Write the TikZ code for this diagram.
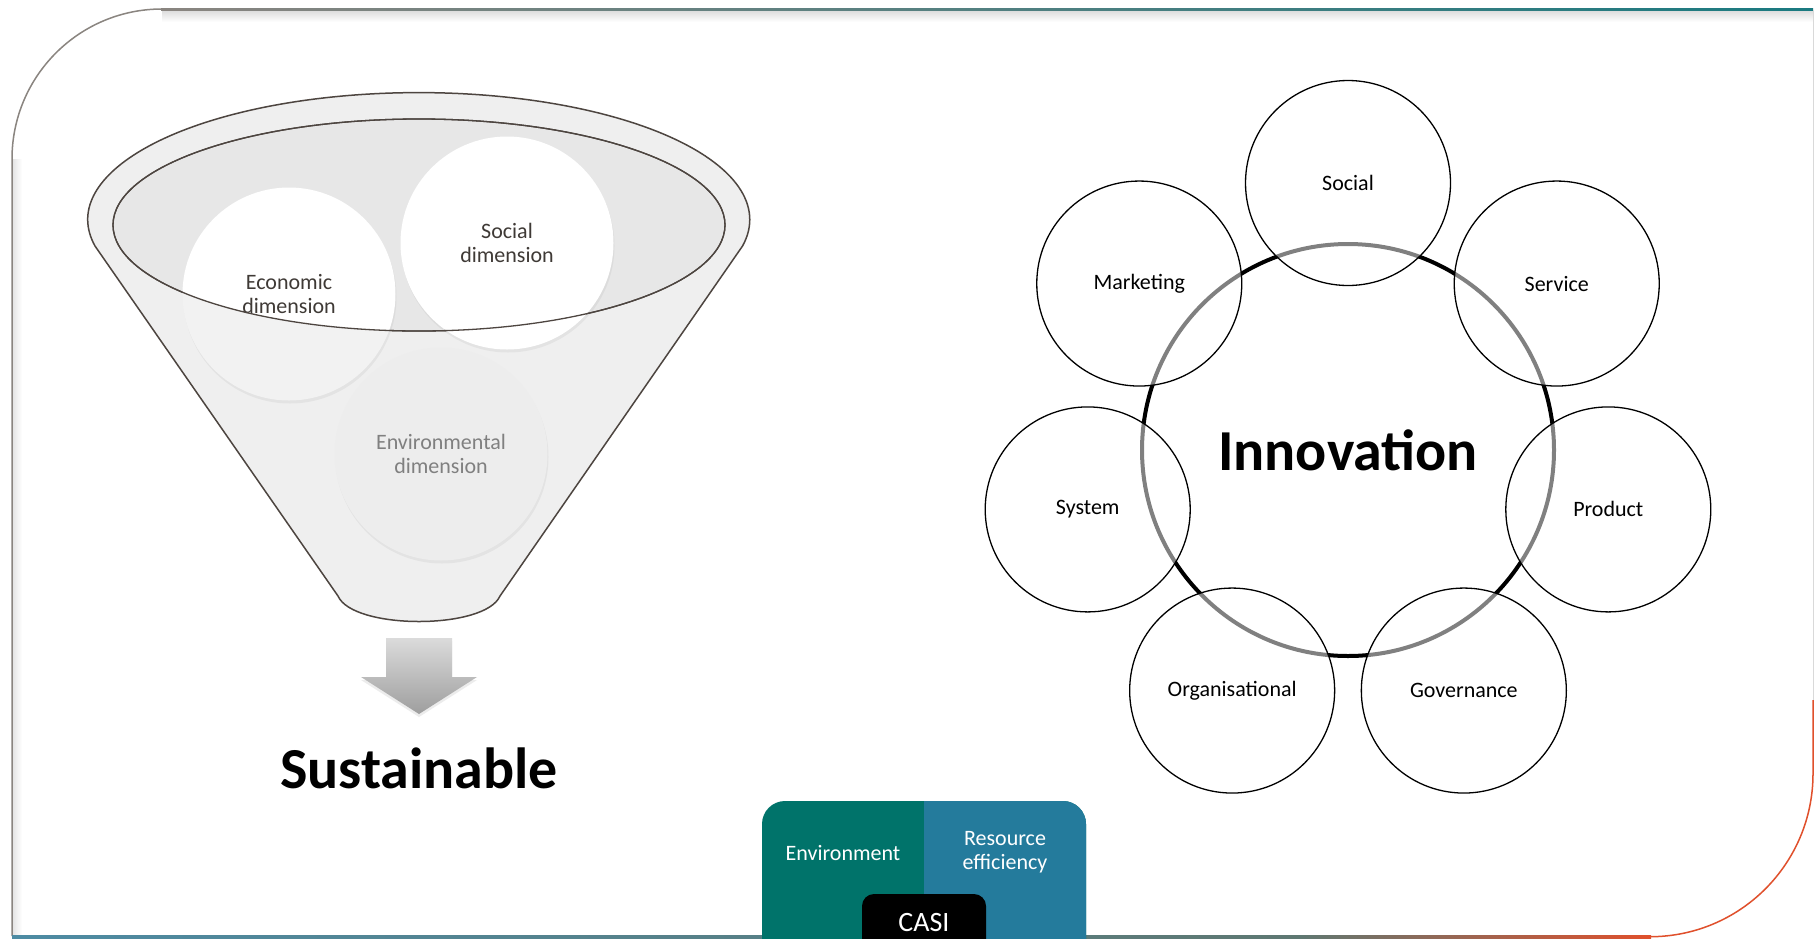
\documentclass[tikz,border=0pt]{standalone}
\usepackage{fontspec}
\setmainfont{Carlito}
\usetikzlibrary{shadows}

\definecolor{funnelline}{HTML}{4D4540}
\definecolor{funnelfill}{HTML}{EFEFEF}
\definecolor{funneltop}{HTML}{E7E7E7}
\definecolor{dimtext}{HTML}{3F3A36}
\definecolor{envteal}{HTML}{00736A}
\definecolor{resblue}{HTML}{247B9C}
\definecolor{framegray}{HTML}{8A8580}
\definecolor{frametop}{HTML}{2A7A95}
\definecolor{frameend}{HTML}{1A7A80}
\definecolor{framelow}{HTML}{4D8BA3}
\definecolor{framemid}{HTML}{5E7872}
\definecolor{framered}{HTML}{E0502C}

\begin{document}
\begin{tikzpicture}[x=1pt,y=-1pt,
    dim/.style={circle,minimum size=213pt,inner sep=0pt,align=center,
        font=\fontsize{22}{24}\selectfont,text=dimtext,
        drop shadow={opacity=0.1,shadow xshift=1pt,shadow yshift=-3pt}},
    kind/.style={circle,draw,line width=1.3pt,fill=white,fill opacity=0.5,text opacity=1,
        minimum size=205pt,inner sep=0pt,font=\fontsize{22}{26}\selectfont},
    boxtext/.style={text=white,align=center,font=\fontsize{22}{24}\selectfont}]
\useasboundingbox (0,0) rectangle (1815,938);
\fill[white] (0,0) rectangle (1815,938);

% slide frame
\shade[top color=black!14,bottom color=white] (162,10) rectangle (1813,22);
\shade[left color=black!10,right color=white] (13,159) rectangle (22,936);
\draw[framegray,line width=1.5pt] (12,936) -- (12,159) arc[start angle=180,end angle=270,radius=150];
\shade[left color=framegray,middle color=frametop,right color=frameend] (161,8) rectangle (1813,10.6);
\shade[left color=framelow,right color=framemid] (12,935.4) rectangle (1300,938);
\shade[left color=framemid,right color=framered] (1299,935.4) rectangle (1651,938);
\draw[framered,line width=1.5pt] (1650,936.7) arc[start angle=90,end angle=0,radius=163] -- (1813,700);
\draw[black!15,line width=1pt] (1813,700) -- (1813,10);

% funnel
\draw[funnelline,fill=funnelfill,line width=1.5pt] (95,246)
    arc[start angle=168,end angle=372,x radius=331,y radius=127]
    -- (500,596) .. controls (485,630) and (353,630) .. (338,596) -- cycle;
\draw[funnelline,fill=funneltop,line width=1.3pt] (419,225) ellipse[x radius=306,y radius=106];

\node[dim,fill=black!7,text=black!50] (envdim) at (441,454) {Environmental\\dimension};
\node[dim,fill=white] (ecodim) at (289,294) {Economic\\dimension};
\node[dim,fill=white] (socdim) at (507,243) {Social\\dimension};
% lower part of the economic disc sits behind the funnel wall
\begin{scope}
\clip (ecodim.center) circle[radius=106.5];
\fill[black,opacity=0.05,even odd rule] (0,0) rectangle (900,700)
    (419,225) ellipse[x radius=306,y radius=106];
\end{scope}
\draw[funnelline,line width=1.3pt] (419,225) ellipse[x radius=306,y radius=106];

\path[top color=black!14,bottom color=black!38,drop shadow={opacity=0.15,shadow xshift=0pt,shadow yshift=-3pt}]
    (386,638) -- (452,638) -- (452,677) -- (477,677) -- (419,714) -- (361,677) -- (386,677) -- cycle;
\node[font=\fontsize{58}{64}\selectfont\bfseries] (sust) at (419,768) {Sustainable};

% innovation wheel
\node[circle,draw,line width=4pt,minimum size=412pt,inner sep=0pt,
    font=\fontsize{58}{64}\selectfont\bfseries] (innov) at (1348,450) {Innovation};
\foreach \lbl/\nm [count=\i from 0] in {Social/social,Marketing/marketing,System/system,
        Organisational/organisational,Governance/governance,Product/product,Service/service}
    \node[kind] (\nm) at ([shift={(-90-\i*51.4286:267)}]innov) {\lbl};

% CASI badge
\begin{scope}
\clip (0,0) rectangle (1815,938);
\fill[envteal,rounded corners=23pt] (762,801) rectangle (1086,990);
\clip (924,0) rectangle (1100,938);
\fill[resblue,rounded corners=23pt] (762,801) rectangle (1086,990);
\end{scope}
\node[boxtext] (environment) at (843,853) {Environment};
\node[boxtext] (resource) at (1005,852) {Resource\\efficiency};
\fill[black,rounded corners=12pt] (862,894) rectangle (986,960);
\node[text=white,font=\fontsize{28}{30}\selectfont] (casi) at (924,922) {CASI};
\end{tikzpicture}
\end{document}
